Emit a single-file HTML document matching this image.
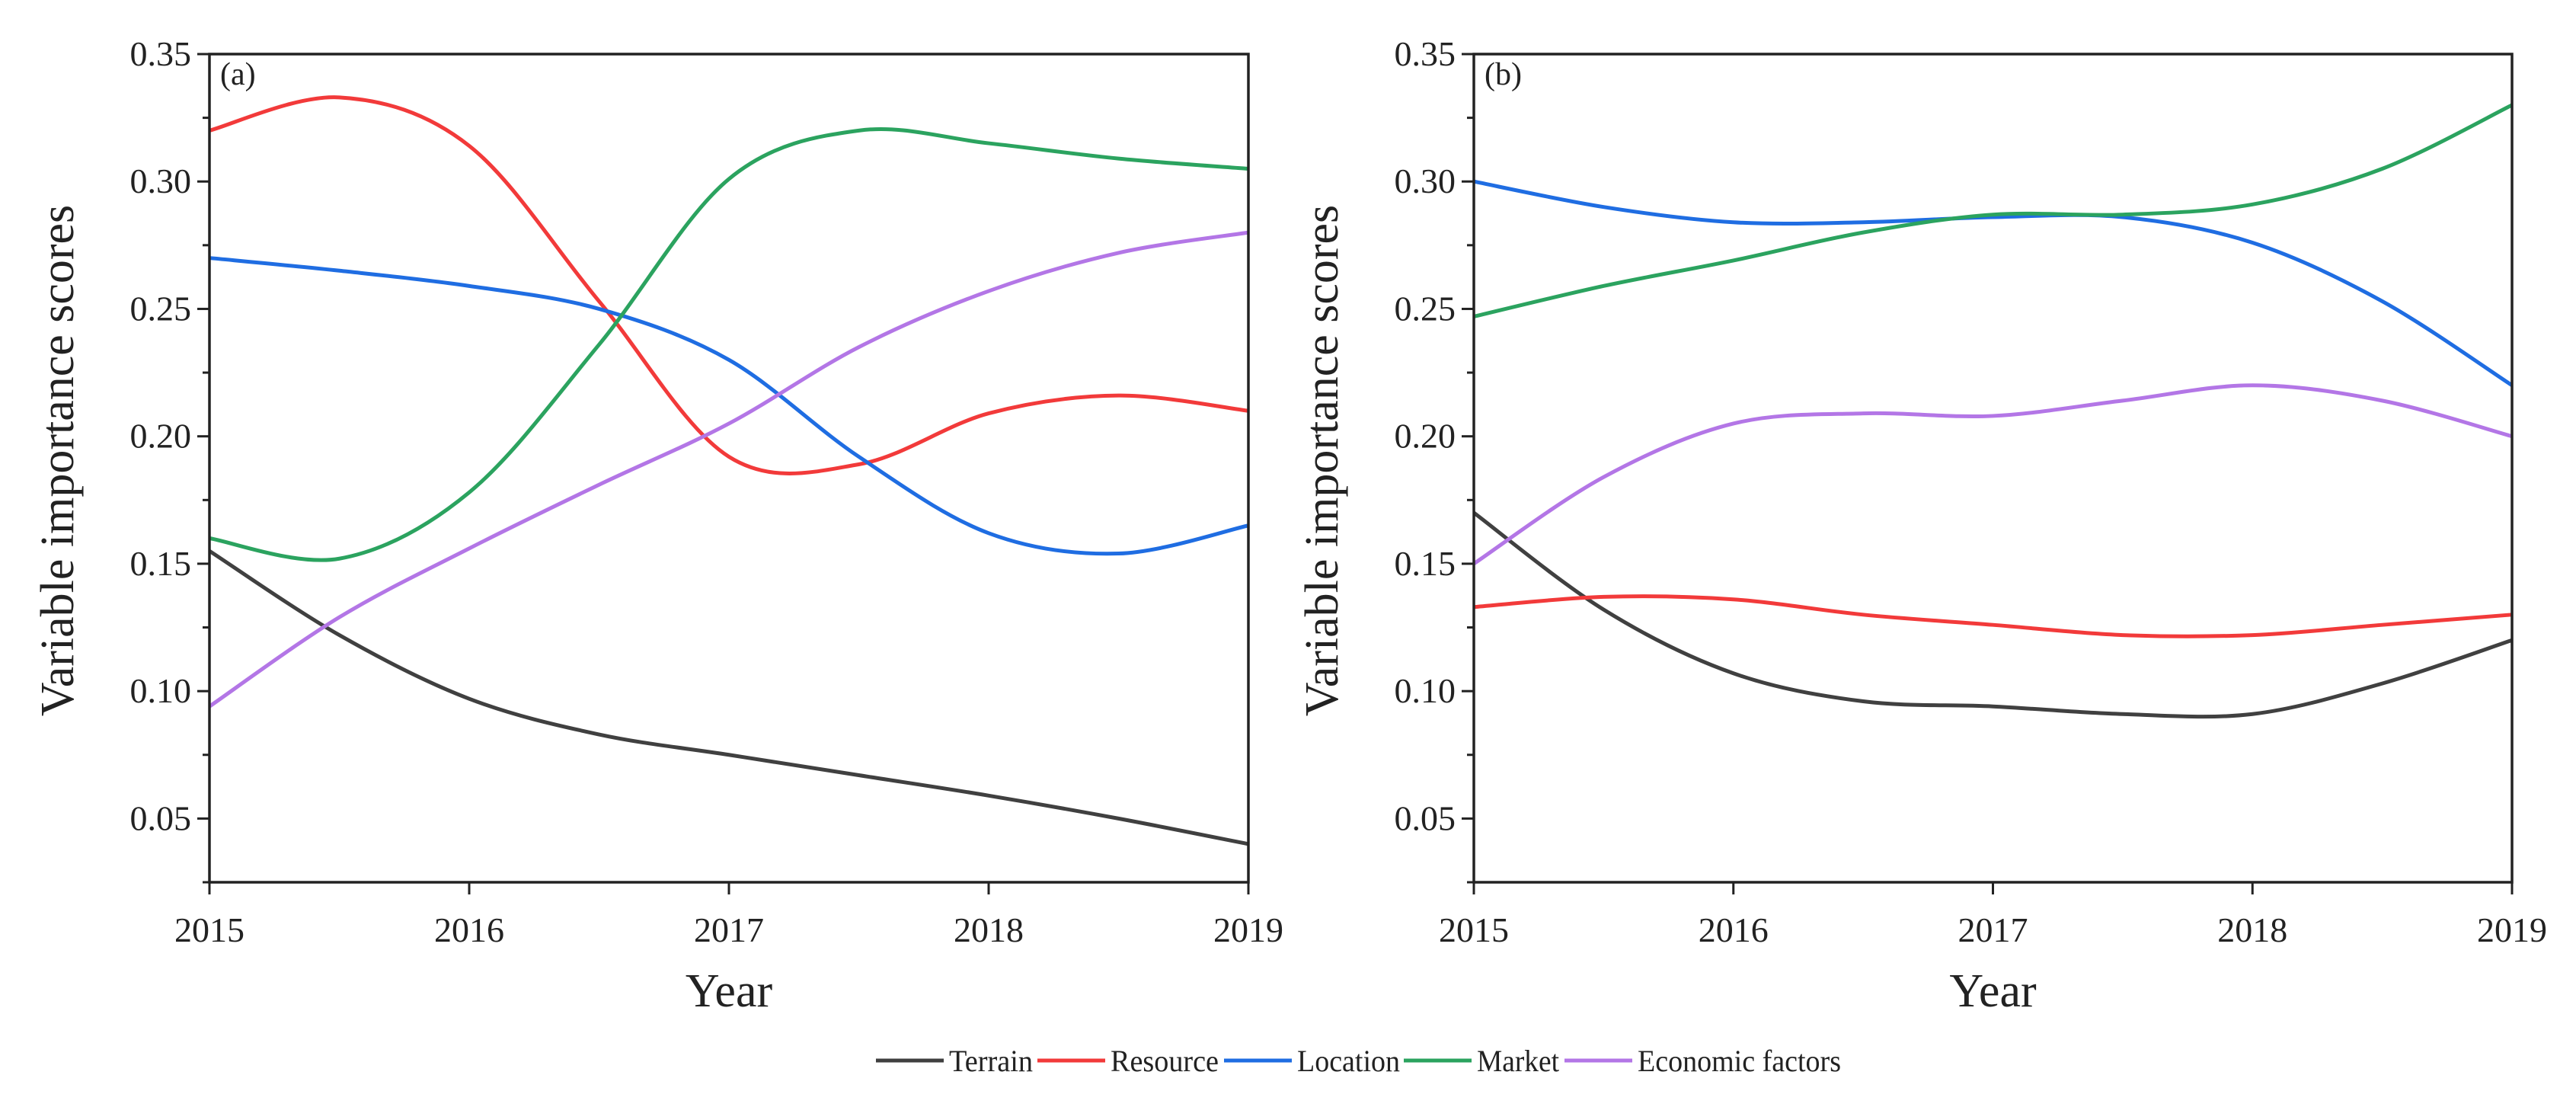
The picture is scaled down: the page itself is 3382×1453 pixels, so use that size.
<!DOCTYPE html>
<html><head><meta charset="utf-8"><style>
html,body{margin:0;padding:0;background:#fff;overflow:hidden;}
svg{display:block;font-family:"Liberation Serif",serif;}
</style></head><body>
<svg id="chart" width="3382" height="1453" viewBox="0 0 3382 1453" xmlns="http://www.w3.org/2000/svg"></svg>
<script>
const years = [2015, 2016, 2017, 2018, 2019];
const sampleX = [2015, 2015.5, 2016, 2016.5, 2017, 2017.5, 2018, 2018.5, 2019];
const yTicks = [0.05, 0.10, 0.15, 0.20, 0.25, 0.30, 0.35];
const yTickLabels = ["0.05", "0.10", "0.15", "0.20", "0.25", "0.30", "0.35"];
const seriesNames = ["Terrain", "Resource", "Location", "Market", "Economic factors"];
const seriesColors = ["#404040", "#f23a3a", "#1f6de2", "#2ba35f", "#b376e6"];
// panel (a)
const aTerrain  = [0.155, 0.122, 0.097, 0.083, 0.075, 0.067, 0.059, 0.050, 0.040];
const aResource = [0.320, 0.333, 0.314, 0.253, 0.192, 0.189, 0.209, 0.216, 0.210];
const aLocation = [0.270, 0.265, 0.259, 0.250, 0.230, 0.192, 0.162, 0.154, 0.165];
const aMarket   = [0.160, 0.152, 0.178, 0.236, 0.301, 0.320, 0.315, 0.309, 0.305];
const aEconomic = [0.094, 0.129, 0.156, 0.181, 0.205, 0.235, 0.257, 0.272, 0.280];
// panel (b)
const bTerrain  = [0.170, 0.132, 0.107, 0.096, 0.094, 0.091, 0.091, 0.103, 0.120];
const bResource = [0.133, 0.137, 0.136, 0.130, 0.126, 0.122, 0.122, 0.126, 0.130];
const bLocation = [0.300, 0.290, 0.284, 0.284, 0.286, 0.286, 0.276, 0.253, 0.220];
const bMarket   = [0.247, 0.259, 0.269, 0.280, 0.287, 0.287, 0.291, 0.305, 0.330];
const bEconomic = [0.150, 0.184, 0.205, 0.209, 0.208, 0.214, 0.220, 0.214, 0.200];

const NS = "http://www.w3.org/2000/svg";
const svg = document.getElementById("chart");
function mk(tag, attrs, parent){
  const e = document.createElementNS(NS, tag);
  for (const k in attrs) e.setAttribute(k, attrs[k]);
  (parent||svg).appendChild(e);
  return e;
}
function catmull(pts){
  let d = "M" + pts[0][0] + "," + pts[0][1];
  for (let i=0;i<pts.length-1;i++){
    const p0 = pts[i-1]||pts[i], p1=pts[i], p2=pts[i+1], p3=pts[i+2]||pts[i+1];
    const c1x = p1[0]+(p2[0]-p0[0])/6, c1y = p1[1]+(p2[1]-p0[1])/6;
    const c2x = p2[0]-(p3[0]-p1[0])/6, c2y = p2[1]-(p3[1]-p1[1])/6;
    d += " C"+c1x+","+c1y+" "+c2x+","+c2y+" "+p2[0]+","+p2[1];
  }
  return d;
}
function panel(id, label, left, right, top, bottom, yTitleX, data){
  const yMin = 0.025, yMax = 0.35;
  const xs = v => left + (v-2015)/(2019-2015)*(right-left);
  const ys = v => bottom - (v-yMin)/(yMax-yMin)*(bottom-top);
  const g = mk("g", {});
  
  
  data.forEach((vals, si) => {
    const pts = sampleX.map((x,i)=>[xs(x), ys(vals[i])]);
    const p = mk("path", {d:catmull(pts), fill:"none", stroke:seriesColors[si], "stroke-width":5}, g);
    
    
  });
  const frame = mk("rect", {x:left, y:top, width:right-left, height:bottom-top, fill:"none", stroke:"#222", "stroke-width":3.5}, g);
  
  
  yTicks.forEach((t,i) => {
    mk("line", {x1:left-16, x2:left, y1:ys(t), y2:ys(t), stroke:"#222", "stroke-width":3}, g);
    const tx = mk("text", {x:left-24, y:ys(t)+15, "font-size":46, "text-anchor":"end", fill:"#222"}, g);
    tx.textContent = yTickLabels[i];
    
    
  });
  for (let v=0.025; v<0.35; v+=0.05){
    mk("line", {x1:left-9, x2:left, y1:ys(v), y2:ys(v), stroke:"#222", "stroke-width":3}, g);
  }
  years.forEach(yr => {
    mk("line", {x1:xs(yr), x2:xs(yr), y1:bottom, y2:bottom+16, stroke:"#222", "stroke-width":3}, g);
    const tx = mk("text", {x:xs(yr), y:bottom+78, "font-size":46, "text-anchor":"middle", fill:"#222"}, g);
    tx.textContent = yr;
    
    
  });
  const lb = mk("text", {x:left+14, y:top+40, "font-size":42, fill:"#222"}, g);
  lb.textContent = label;
  
  
  const xt = mk("text", {x:(left+right)/2, y:bottom+163, "font-size":62, "text-anchor":"middle", fill:"#222"}, g);
  xt.textContent = "Year";
  
  
  const cy = (top+bottom)/2 - 10;
  const yt = mk("text", {x:yTitleX, y:cy, "font-size":62, "text-anchor":"middle", fill:"#222", transform:"rotate(-90 "+yTitleX+" "+cy+")"}, g);
  yt.textContent = "Variable importance scores";
  
  
}
panel("a", "(a)", 275, 1639, 71, 1158, 96, [aTerrain, aResource, aLocation, aMarket, aEconomic]);
panel("b", "(b)", 1935, 3298, 71, 1158, 1756, [bTerrain, bResource, bLocation, bMarket, bEconomic]);

// legend
const legX = [1150, 1362, 1607, 1843, 2054];
const legTextW = [110, 142, 135, 108, 267];
const lg = mk("g", {});


seriesNames.forEach((n,i) => {
  const e = mk("g", {}, lg);
  
  
  mk("line", {x1:legX[i], x2:legX[i]+89, y1:1392, y2:1392, stroke:seriesColors[i], "stroke-width":5}, e);
  const t = mk("text", {x:legX[i]+96, y:1406, "font-size":40, fill:"#222", textLength:legTextW[i], lengthAdjust:"spacingAndGlyphs"}, e);
  t.textContent = n;
});
</script>
</body></html>
